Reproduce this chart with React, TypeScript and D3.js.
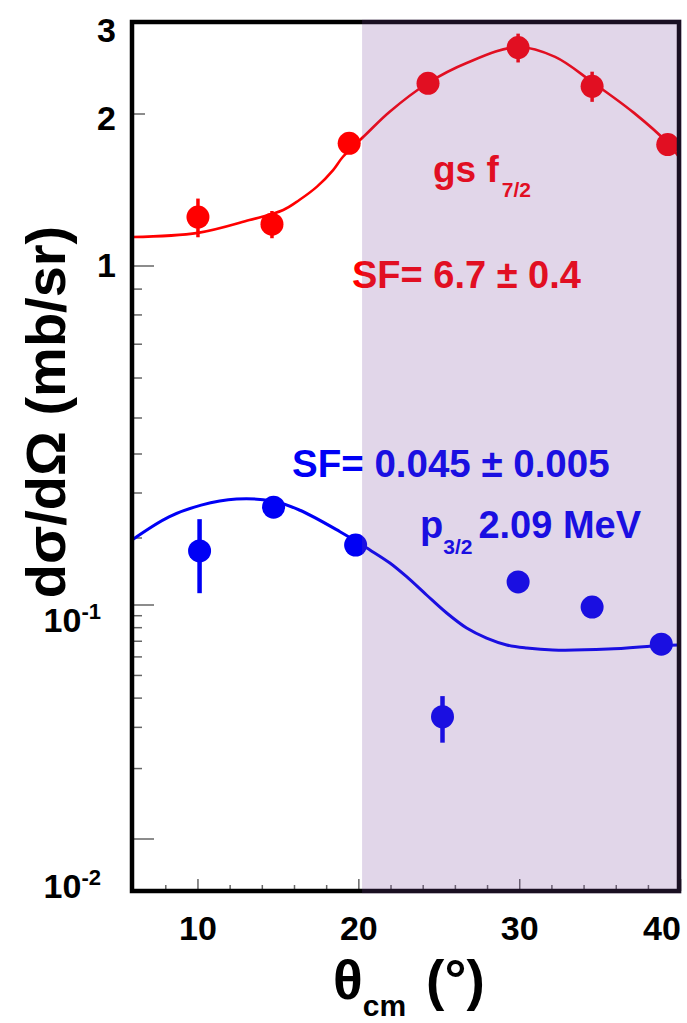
import React from "react";
import * as d3 from "d3";

const W = 687;
const H = 1023;

// gs f7/2 data (theta_cm in deg, dsigma/dOmega in mb/sr)
const redTheta = [10, 14.6, 19.4, 24.3, 29.9, 34.5, 39.2];
const redValue = [1.25, 1.21, 1.75, 2.29, 2.68, 2.26, 1.74];
const redErr = [0.11, 0.075, 0.06, 0.1, 0.17, 0.15, 0.08];

// p3/2 2.09 MeV data
const blueTheta = [10.1, 14.7, 19.8, 25.2, 29.9, 34.5, 38.8];
const blueValue = [0.175, 0.264, 0.186, 0.0333, 0.127, 0.098, 0.068];
const blueErr = [0.062, 0.016, 0.01, 0.0075, 0.006, 0.005, 0.004];

// DWBA curves
const redFitTheta = [5.9, 10, 13.2, 15.3, 16.3, 17.4, 18.4, 19.0, 20.4, 21.9, 24.3, 26.7, 29.9, 32.2, 34.5, 37.1, 39.2, 39.9];
const redFitValue = [1.141, 1.163, 1.233, 1.291, 1.351, 1.436, 1.549, 1.644, 1.817, 2.018, 2.293, 2.504, 2.687, 2.572, 2.303, 2.01, 1.752, 1.644];
const blueFitTheta = [5.9, 8.2, 10.2, 12.4, 14.6, 16.3, 18.83, 20.69, 21.93, 22.97, 24.21, 25.46, 26.7, 27.94, 29.19, 30.43, 32.06, 35.5, 38.8, 39.9];
const blueFitValue = [0.196, 0.242, 0.269, 0.284, 0.279, 0.2574, 0.2117, 0.1767, 0.1544, 0.134, 0.1109, 0.0924, 0.0797, 0.0722, 0.0675, 0.0655, 0.0642, 0.0648, 0.0672, 0.0675];

// axes
const xMajor = [10, 20, 30, 40];
const xMinor = [8, 12, 14, 16, 18, 22, 24, 26, 28, 32, 34, 36, 38];
const yLong = [0.01, 0.1, 1];
const yMid = [2];
const yMinor = [0.02, 0.03, 0.04, 0.05, 0.06, 0.07, 0.08, 0.09, 0.2, 0.3, 0.4, 0.5, 0.6, 0.7, 0.8, 0.9];
const yLabels = [
  { v: 3, base: "3", exp: "" },
  { v: 2, base: "2", exp: "" },
  { v: 1, base: "1", exp: "" },
  { v: 0.1, base: "10", exp: "-1" },
  { v: 0.01, base: "10", exp: "-2" },
];
const shadeFrom = 20.2;

const RED = "#ff0000";
const BLUE = "#0000f5";
const FONT = "'Liberation Sans', Arial, Helvetica, sans-serif";

export default function App() {
  const x = d3.scaleLinear().domain([5.9, 39.9]).range([132, 679]);
  // the printed axis is not evenly spaced per decade, so calibrate on its ticks
  const y = d3
    .scaleLog()
    .domain([0.006, 0.01, 0.1, 0.2, 0.3, 0.4, 0.5, 1, 2, 3])
    .range([891, 839, 605, 538, 493, 454, 418, 266, 114, 22]);

  const [x0, x1] = x.range();
  const [yb, yt] = [y(0.006), y(3)];

  const line = d3
    .line<[number, number]>()
    .x((d) => x(d[0]))
    .y((d) => y(d[1]))
    .curve(d3.curveCatmullRom.alpha(0.5));

  const redFit = redFitTheta.map((t, i) => [t, redFitValue[i]] as [number, number]);
  const blueFit = blueFitTheta.map((t, i) => [t, blueFitValue[i]] as [number, number]);

  const labelNudge = [20, 16, 11, 27, 59];

  const points = (th: number[], val: number[], err: number[], color: string, bw: number) =>
    th.map((t, i) => (
      <g key={i}>
        <line
          x1={x(t)}
          x2={x(t)}
          y1={y(val[i] + err[i])}
          y2={y(val[i] - err[i])}
          stroke={color}
          strokeWidth={bw}
        />
        <circle cx={x(t)} cy={y(val[i])} r={11.5} fill={color} />
      </g>
    ));

  return (
    <svg
      width={W}
      height={H}
      style={{ position: "absolute", left: 0, top: 0, background: "#fff" }}
      fontFamily={FONT}
      fontWeight="bold"
    >
      {/* ticks */}
      <g stroke="#666" strokeWidth={1.5}>
        {yLong.map((v) => (
          <line key={"l" + v} x1={x0} x2={x0 + 22} y1={y(v)} y2={y(v)} />
        ))}
        {yMid.map((v) => (
          <line key={"m" + v} x1={x0} x2={x0 + 13} y1={y(v)} y2={y(v)} />
        ))}
        {yMinor.map((v) => (
          <line key={"n" + v} x1={x0} x2={x0 + 10} y1={y(v)} y2={y(v)} />
        ))}
        {xMajor.map((v) => (
          <line key={"x" + v} x1={x(v)} x2={x(v)} y1={yb} y2={yb - 12} />
        ))}
        {xMinor.map((v) => (
          <line key={"xm" + v} x1={x(v)} x2={x(v)} y1={yb} y2={yb - 6} />
        ))}
      </g>

      {/* curves */}
      <path d={line(redFit) ?? ""} fill="none" stroke={RED} strokeWidth={2.6} />
      <path d={line(blueFit) ?? ""} fill="none" stroke={BLUE} strokeWidth={3} />

      {points(redTheta, redValue, redErr, RED, 3.5)}
      {points(blueTheta, blueValue, blueErr, BLUE, 4.5)}

      {/* annotations */}
      <text x={433} y={182} fill={RED} fontSize={37}>
        gs f
        <tspan fontSize={21} dx={3} dy={15}>7/2</tspan>
      </text>
      <text x={352} y={288} fill={RED} fontSize={38}>
        SF= 6.7 ± 0.4
      </text>
      <text x={292} y={477} fill={BLUE} fontSize={38.5}>
        SF= 0.045 ± 0.005
      </text>
      <text x={420} y={538} fill={BLUE} fontSize={38}>
        p
        <tspan fontSize={21} dy={16}>3/2</tspan>
        <tspan dx={6} dy={-16}>2.09 MeV</tspan>
      </text>

      {/* frame */}
      <rect
        x={x0}
        y={yt}
        width={x1 - x0}
        height={yb - yt}
        fill="none"
        stroke="#000"
        strokeWidth={4.5}
      />

      {/* shaded angular range */}
      <rect
        x={x(shadeFrom)}
        y={yt - 2.5}
        width={x1 + 2.5 - x(shadeFrom)}
        height={yb - yt + 5}
        fill="rgb(120,67,156)"
        fillOpacity={0.22}
      />

      {/* y tick labels */}
      {yLabels.map((d, i) => (
        <text key={d.v} x={d.exp ? 101 : 116} y={y(d.v) + labelNudge[i]} fontSize={34} textAnchor="end">
          {d.base}
          {d.exp && (
            <tspan fontSize={22} dy={-13}>
              {d.exp}
            </tspan>
          )}
        </text>
      ))}
      {/* x tick labels */}
      {xMajor.map((v) => (
        <text key={v} x={Math.min(x(v), 662)} y={940} fontSize={34} textAnchor="middle">
          {v}
        </text>
      ))}

      {/* axis titles */}
      <text transform={`translate(65,412) rotate(-90)`} fontSize={56} textAnchor="middle">
        dσ/dΩ (mb/sr)
      </text>
      <text x={333} y={999} fontSize={55}>
        θ
        <tspan fontSize={30} dy={17}>cm</tspan>
        <tspan dx={20} dy={-17}>(°)</tspan>
      </text>
    </svg>
  );
}
